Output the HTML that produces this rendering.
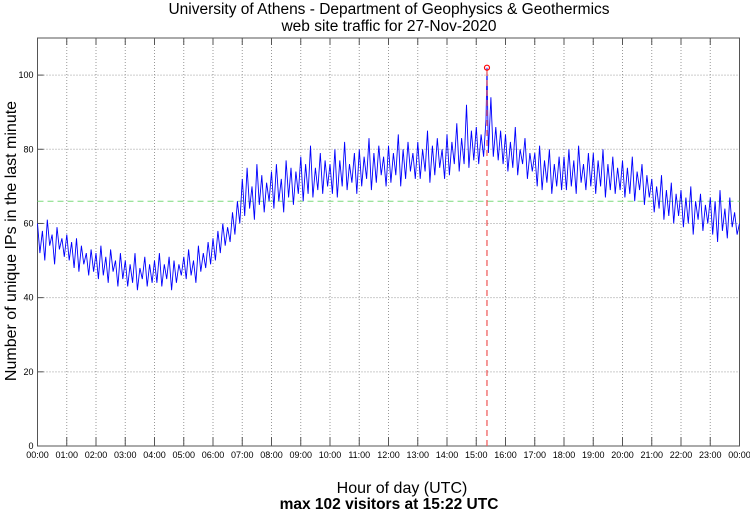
<!DOCTYPE html>
<html><head><meta charset="utf-8"><style>
body{margin:0;background:#fff;}
svg text{font-family:"Liberation Sans",sans-serif;}
</style></head><body>
<svg id="chart" width="750" height="511" xmlns="http://www.w3.org/2000/svg">
<text x="389" y="14" text-anchor="middle" font-size="15.5">University of Athens - Department of Geophysics &amp; Geothermics</text>
<text x="389" y="31" text-anchor="middle" font-size="15.5">web site traffic for 27-Nov-2020</text>
<g id="grid"></g>
<g id="axes"></g>
<g id="series"></g>
<text transform="translate(16,241) rotate(-90)" text-anchor="middle" font-size="16">Number of unique IPs in the last minute</text>
<text x="402" y="493" text-anchor="middle" font-size="16">Hour of day (UTC)</text>
<text x="389" y="509" text-anchor="middle" font-size="15.5" font-weight="bold">max 102 visitors at 15:22 UTC</text>
</svg>
<script>
const hourLabels=["00:00","01:00","02:00","03:00","04:00","05:00","06:00","07:00","08:00","09:00","10:00","11:00","12:00","13:00","14:00","15:00","16:00","17:00","18:00","19:00","20:00","21:00","22:00","23:00","00:00"];
const yTicks=[0,20,40,60,80,100];
const visitors=[
60,52,58,50,61,54,57,49,59,53,56,51,
57,50,55,48,56,47,54,49,52,46,53,47,
52,45,54,46,51,44,53,47,50,43,52,45,
50,43,49,44,52,42,48,45,51,43,49,44,
50,44,52,43,49,45,51,42,50,44,49,46,
51,45,53,46,50,44,54,47,52,48,55,49,
56,50,58,52,60,54,59,55,63,57,66,60,
72,62,75,64,70,61,76,65,73,63,71,66,
74,64,76,66,72,63,77,67,75,65,74,68,
78,66,76,68,81,67,75,69,79,68,77,70,
76,68,80,67,77,70,82,69,76,71,79,68,
80,70,78,72,83,69,79,71,81,73,78,70,
81,71,79,73,84,70,80,72,82,74,79,72,
82,72,80,74,85,71,81,73,83,75,80,72,
84,73,82,76,87,74,83,76,92,75,85,77,
86,76,84,78,88,79,94,78,86,77,85,76,
84,74,82,75,86,73,80,76,83,72,79,74,
79,70,81,69,77,71,80,68,76,70,78,69,
78,69,80,70,77,68,81,71,76,69,79,70,
79,68,77,70,80,67,76,69,78,68,75,69,
77,67,75,68,78,66,74,69,76,65,73,67,
72,63,70,64,73,61,69,62,71,60,68,62,
69,59,67,60,70,57,66,61,68,58,65,60,
67,57,66,55,69,58,64,56,67,59,63,57,
60];
const stepMinutes=5;
const meanValue=66;
const peakMinute=15*60+22;
const peakValue=102;

const L=37.5,R=739.5,T=38,B=446,YMAX=110;
const xs=m=>L+(R-L)*m/1440;
const ys=v=>B-(B-T)*v/YMAX;
const NS="http://www.w3.org/2000/svg";
function mk(parent,tag,attrs){const e=document.createElementNS(NS,tag);for(const k in attrs)e.setAttribute(k,attrs[k]);document.getElementById(parent).appendChild(e);return e;}

hourLabels.forEach((lab,i)=>{
  const x=xs(i*60);
  if(i>0&&i<24){
    const g=mk('grid','line',{x1:x,x2:x,y1:T,y2:B,stroke:'#999','stroke-width':1,'stroke-dasharray':'1,2'});
    
    
    const t1=mk('axes','line',{x1:x,x2:x,y1:B,y2:B-9,stroke:'#555','stroke-width':1});
    
    
    const t2=mk('axes','line',{x1:x,x2:x,y1:T,y2:T+7,stroke:'#555','stroke-width':1});
    
    
  }
  const t=mk('axes','text',{x:x,y:458,'text-anchor':'middle','font-size':9});
  t.textContent=lab;
  
  
});
yTicks.forEach(v=>{
  const y=ys(v);
  if(v>0){
    const g=mk('grid','line',{x1:L,x2:R,y1:y,y2:y,stroke:'#999','stroke-width':1,'stroke-dasharray':'1,2'});
    
    
    const tk=mk('axes','line',{x1:L,x2:L+6,y1:y,y2:y,stroke:'#555','stroke-width':1});
    
    
  }
  const t=mk('axes','text',{x:L-4,y:y+3,'text-anchor':'end','font-size':9});
  t.textContent=v;
  
  
});
const frame=mk('axes','rect',{x:L,y:T,width:R-L,height:B-T,fill:'none',stroke:'#555','stroke-width':1});



const mean=mk('series','line',{x1:L,x2:R,y1:ys(meanValue),y2:ys(meanValue),stroke:'#7ddc7d','stroke-width':1,'stroke-dasharray':'6,4'});



let pts=visitors.map((v,i)=>[i*stepMinutes,v]);
pts.push([peakMinute,peakValue]);
pts.sort((a,b)=>a[0]-b[0]);
const d=pts.map((p,i)=>(i?'L':'M')+xs(p[0]).toFixed(1)+','+ys(p[1]).toFixed(1)).join('');
const line=mk('series','path',{d:d,fill:'none',stroke:'#0000ff','stroke-width':0.9});



const pv=mk('series','line',{x1:xs(peakMinute),x2:xs(peakMinute),y1:B,y2:ys(peakValue),stroke:'#f06060','stroke-width':1.3,'stroke-dasharray':'6,4'});


const pc=mk('series','circle',{cx:xs(peakMinute),cy:ys(peakValue),r:2.5,fill:'none',stroke:'#ff0000','stroke-width':1.2});


</script>
</body></html>
